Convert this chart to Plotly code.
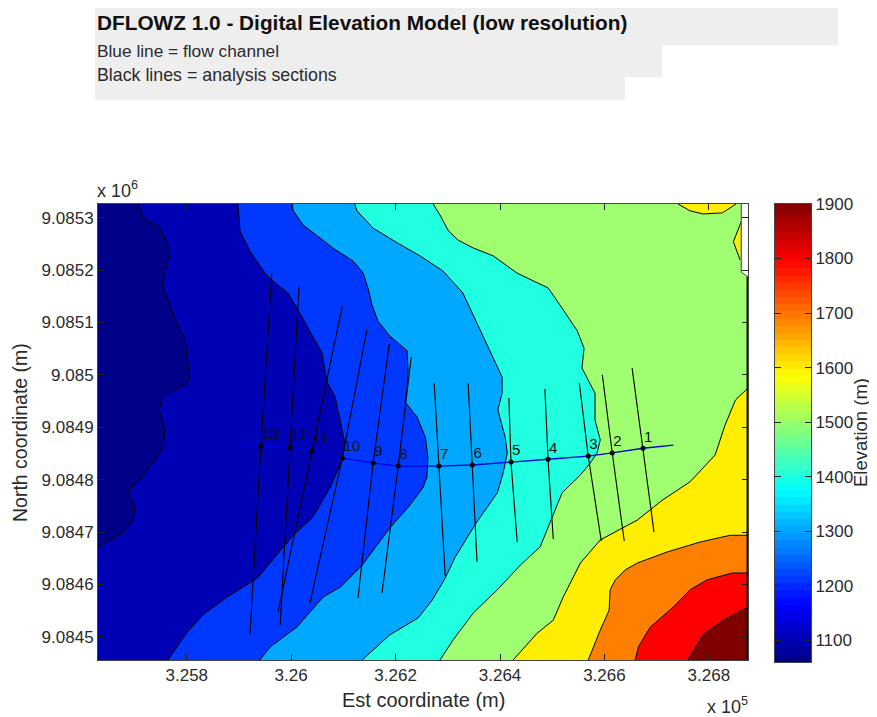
import numpy as np
import plotly.graph_objects as go

# Frame of the map (metres)
X_MIN, X_MAX = 325630, 326875
Y_MIN, Y_MAX = 9084456, 9085326
X_NOTCH = 326862
Y_NOTCH_A, Y_NOTCH_B = 9085196, 9085187

# Contour boundaries (easting, northing)
c1_x = [325707,325716,325749,325768,325753,325778,325797,325801,325806,325801,325768,325753,325747,325758,325755,325735,325710,325686,325701,325697,325676,325630]
c1_y = [9085326,9085301,9085280,9085238,9085171,9085105,9085067,9085028,9085000,9084984,9084967,9084952,9084933,9084895,9084862,9084832,9084799,9084778,9084748,9084723,9084698,9084672]
c2_x = [325898,325902,325921,325950,325965,325994,326013,326032,326059,326069,326084,326103,326098,326075,326042,326004,325965,325935,325877,325831,325801,325764]
c2_y = [9085326,9085275,9085236,9085194,9085179,9085156,9085124,9085089,9085042,9084986,9084958,9084870,9084838,9084786,9084729,9084694,9084647,9084612,9084576,9084542,9084509,9084456]
c3_x = [326002,326004,326023,326050,326080,326119,326138,326147,326155,326166,326189,326222,326224,326222,326218,326241,326257,326262,326260,326253,326228,326189,326136,326094,326061,326011,325960,325940]
c3_y = [9085326,9085313,9085286,9085265,9085242,9085217,9085194,9085166,9085133,9085103,9085074,9085046,9085007,9084975,9084948,9084920,9084881,9084843,9084805,9084786,9084752,9084708,9084637,9084595,9084576,9084519,9084481,9084456]
c4_x = [326122,326126,326157,326203,326247,326291,326329,326349,326372,326396,326404,326404,326396,326410,326414,326406,326395,326352,326314,326295,326270,326243,326189,326136]
c4_y = [9085326,9085313,9085280,9085252,9085227,9085198,9085156,9085114,9085065,9085013,9084996,9084965,9084933,9084881,9084851,9084813,9084775,9084714,9084652,9084612,9084570,9084536,9084504,9084456]
c5_x = [326272,326285,326301,326320,326349,326387,326433,326492,326515,326548,326561,326557,326582,326582,326592,326586,326573,326554,326519,326496,326477,326439,326395,326349,326310,326285]
c5_y = [9085326,9085305,9085275,9085257,9085242,9085227,9085194,9085166,9085133,9085084,9085051,9085013,9084965,9084914,9084876,9084851,9084832,9084809,9084775,9084717,9084672,9084637,9084590,9084546,9084494,9084456]
c6_x = [326875,326851,326831,326812,326764,326711,326663,326592,326554,326521,326502,326471,326425]
c6_y = [9084975,9084952,9084904,9084847,9084796,9084761,9084723,9084685,9084641,9084576,9084532,9084507,9084456]
c7_x = [326875,326841,326783,326720,326663,326640,326621,326611,326609,326592,326569]
c7_y = [9084694,9084694,9084681,9084662,9084641,9084628,9084609,9084590,9084551,9084513,9084456]
c8_x = [326875,326845,326797,326764,326732,326688,326665,326659]
c8_y = [9084622,9084622,9084609,9084590,9084557,9084519,9084481,9084456]
c9_x = [326875,326828,326789,326760]
c9_y = [9084557,9084532,9084504,9084456]
blob_top_x = [326741,326764,326789,326826,326852]
blob_top_y = [9085326,9085313,9085307,9085309,9085326]
blob_right_x = [326862,326847,326860]
blob_right_y = [9085292,9085254,9085219]

band_colors = ["#000088", "#0000b4", "#0038ff", "#00a8ff", "#20ffe0",
               "#a0ff70", "#ffee00", "#ff8000", "#ff0000", "#800000"]

# Flow channel and analysis sections
station_labels = ["1","2","3","4","5","6","7","8","9","10","11","12","13"]
station_x = [326674,326615,326569,326492,326421,326347,326283,326205,326157,326098,326040,325998,325942]
station_y = [9084860,9084851,9084845,9084839,9084834,9084828,9084826,9084826,9084832,9084841,9084855,9084862,9084864]
section_top_x = [326653,326596,326552,326486,326417,326339,326274,326230,326188,326145,326098,326015,325963]
section_top_y = [9085013,9085000,9084984,9084973,9084956,9084984,9084984,9085034,9085059,9085086,9085131,9085168,9085194]
section_bot_x = [326695,326638,326594,326502,326433,326356,326295,326174,326128,326036,325975,325979,325921]
section_bot_y = [9084700,9084683,9084683,9084687,9084681,9084643,9084616,9084584,9084574,9084565,9084548,9084523,9084504]
channel_start = (325896, 9084868)
channel_end = (326732, 9084866)

x_ticks = [325800,326000,326200,326400,326600,326800]
x_tick_text = ["3.258","3.26","3.262","3.264","3.266","3.268"]
y_ticks = [9084500,9084600,9084700,9084800,9084900,9085000,9085100,9085200,9085300]
y_tick_text = ["9.0845","9.0846","9.0847","9.0848","9.0849","9.085","9.0851","9.0852","9.0853"]
cbar_ticks = [1100,1200,1300,1400,1500,1600,1700,1800,1900]
Z_MIN, Z_MAX = 1060, 1900

FONT = "Liberation Sans, Arial, sans-serif"
TXT = "#2b2b2b"

# Closing paths along the frame: bottom-right, up the right edge, round the white notch
right_close_x = [X_MAX, X_MAX, X_NOTCH, X_NOTCH]
right_close_y = [Y_MIN, Y_NOTCH_B, Y_NOTCH_A, Y_MAX]

fig = go.Figure()

def fill(xs, ys, color):
    fig.add_trace(go.Scatter(x=list(xs) + [xs[0]], y=list(ys) + [ys[0]], mode="lines", fill="toself",
                             fillcolor=color, line=dict(width=0, color=color),
                             hoverinfo="skip", showlegend=False))

def line(xs, ys, color="#000000", width=1.0):
    fig.add_trace(go.Scatter(x=xs, y=ys, mode="lines", line=dict(color=color, width=width),
                             hoverinfo="skip", showlegend=False))

# Base band
fill([X_MIN, X_MIN] + right_close_x, [Y_MAX, Y_MIN] + right_close_y, band_colors[0])
# First band also turns the bottom-left corner
fill(c1_x + [X_MIN] + right_close_x, c1_y + [Y_MIN] + right_close_y, band_colors[1])
# Bands closed along the right and top
for (cx, cy), col in zip([(c2_x,c2_y),(c3_x,c3_y),(c4_x,c4_y),(c5_x,c5_y)], band_colors[2:6]):
    fill(cx + right_close_x, cy + right_close_y, col)
# Bands in the bottom-right corner
for (cx, cy), col in zip([(c6_x,c6_y),(c7_x,c7_y),(c8_x,c8_y),(c9_x,c9_y)], band_colors[6:10]):
    fill(cx + [X_MAX], cy + [Y_MIN], col)
# Small yellow patches at the top right
fill(blob_top_x, blob_top_y, band_colors[6])
fill(blob_right_x, blob_right_y, band_colors[6])

for cx, cy in [(c1_x,c1_y),(c2_x,c2_y),(c3_x,c3_y),(c4_x,c4_y),(c5_x,c5_y),(c6_x,c6_y),(c7_x,c7_y),(c8_x,c8_y),(c9_x,c9_y),
               (blob_top_x,blob_top_y),(blob_right_x,blob_right_y)]:
    line(cx, cy)
# Edge of the notch and heavy right-hand frame
line([X_NOTCH, X_NOTCH, X_MAX], [Y_MAX, Y_NOTCH_A, Y_NOTCH_B], "#555555", 1)
line([X_MAX, X_MAX], [Y_NOTCH_B, Y_MIN], "#111111", 3)

# Analysis sections
for i in range(len(station_labels)):
    line([section_top_x[i], station_x[i], section_bot_x[i]],
         [section_top_y[i], station_y[i], section_bot_y[i]], "#000000", 1.1)

# Flow channel
line([channel_end[0]] + station_x + [channel_start[0]],
     [channel_end[1]] + station_y + [channel_start[1]], "#0000e0", 1.3)

# Stations
fig.add_trace(go.Scatter(x=station_x, y=station_y, mode="markers",
                         marker=dict(color="#000000", size=5), hoverinfo="skip", showlegend=False))
LABEL_DX, LABEL_DY = 2, 20
fig.add_trace(go.Scatter(x=[v + LABEL_DX for v in station_x], y=[v + LABEL_DY for v in station_y],
                         mode="text", text=station_labels, textposition="middle right",
                         textfont=dict(family=FONT, size=15, color="#111111"),
                         hoverinfo="skip", showlegend=False))

# Colour bar
rows = np.linspace(Z_MIN, Z_MAX, 65)
centres = (rows[:-1] + rows[1:]) / 2
jet = [[0, "rgb(0,0,131)"], [0.125, "rgb(0,0,255)"], [0.375, "rgb(0,255,255)"],
       [0.625, "rgb(255,255,0)"], [0.875, "rgb(255,0,0)"], [1, "rgb(128,0,0)"]]
fig.add_trace(go.Heatmap(x=[0], y=centres, z=[[v] for v in centres], colorscale=jet,
                         zmin=Z_MIN, zmax=Z_MAX, showscale=False, xaxis="x2", yaxis="y2", hoverinfo="skip"))

# The page adds an 8 px body margin, so the figure is placed 8 px up and left
PAGE = 8
W, H = 877 - PAGE, 717 - PAGE
L, R, T, B = 98 - PAGE, 811 - PAGE, 204 - PAGE, 662 - PAGE
def px(v): return (v - PAGE - L) / (R - L)
def py(v): return (B - (v - PAGE)) / (B - T)

tick_font = dict(family=FONT, size=17, color=TXT)
axis_common = dict(showgrid=False, zeroline=False, showline=True, linecolor="#444444", linewidth=1,
                   mirror="ticks", ticks="inside", ticklen=6, tickwidth=1, tickcolor="#222222",
                   tickfont=tick_font)

header_rows = [(95, 838, 8, 45), (95, 662, 45, 77), (95, 625, 77, 100)]
shapes = [dict(type="rect", xref="paper", yref="paper", x0=px(a), x1=px(b), y0=py(d), y1=py(c),
               fillcolor="#eeeeee", line=dict(width=0), layer="below") for a, b, c, d in header_rows]

def note(text, xpx, ypx, size, bold=False, anchor="left", angle=0, color=TXT):
    return dict(text=f"<b>{text}</b>" if bold else text, x=px(xpx), y=py(ypx), xref="paper", yref="paper",
                xanchor=anchor, yanchor="middle", showarrow=False, textangle=angle,
                font=dict(family=FONT, size=size, color=color))

annotations = [
    note("DFLOWZ 1.0 - Digital Elevation Model (low resolution)", 95, 22, 20.8, bold=True, color="#111111"),
    note("Blue line = flow channel", 95, 51, 17.3),
    note("Black lines = analysis sections", 95, 75, 17.8),
    note("x 10<sup>6</sup>", 95, 189, 18),
    note("x 10<sup>5</sup>", 705, 705, 18),
    note("Est coordinate (m)", 423, 700, 20, anchor="center"),
    note("North coordinate (m)", 20, 433, 19.5, anchor="center", angle=-90),
    note("Elevation (m)", 860, 433, 18.5, anchor="center", angle=-90),
]

fig.update_layout(
    width=W, height=H, autosize=False,
    margin=dict(l=L, r=W - R, t=T, b=H - B, pad=0),
    paper_bgcolor="#ffffff", plot_bgcolor="#ffffff", showlegend=False,
    shapes=shapes, annotations=annotations,
    xaxis=dict(domain=[0, px(748)], range=[X_MIN, X_MAX], tickmode="array", tickvals=x_ticks,
               ticktext=x_tick_text, **axis_common),
    yaxis=dict(domain=[py(660), 1], range=[Y_MIN, Y_MAX], tickmode="array", tickvals=y_ticks,
               ticktext=y_tick_text, **axis_common),
    xaxis2=dict(domain=[px(775), 1], anchor="y2", showticklabels=False, ticks="", showgrid=False,
                zeroline=False, showline=True, mirror=True, linecolor="#444444", linewidth=1, range=[-0.5, 0.5]),
    yaxis2=dict(domain=[0, 1], anchor="x2", side="right", range=[Z_MIN, Z_MAX], tickmode="array",
                tickvals=cbar_ticks, ticktext=[str(t) for t in cbar_ticks], **axis_common),
)

fig.write_html("out.html")
